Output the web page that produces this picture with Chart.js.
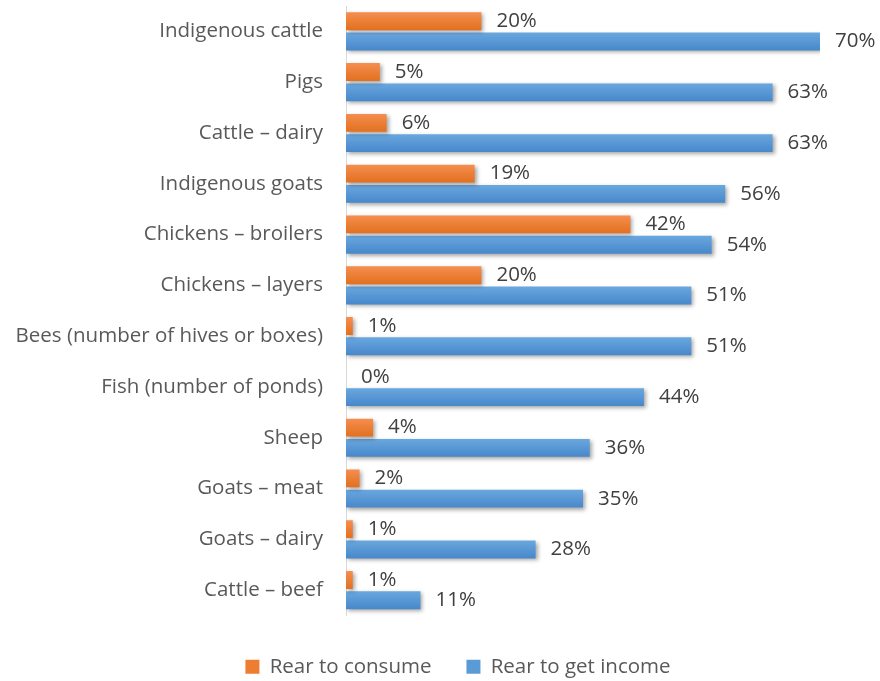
<!DOCTYPE html>
<html>
<head>
<meta charset="utf-8">
<script src="https://cdn.jsdelivr.net/npm/chart.js@4"></script>
<style>
  html, body { margin: 0; padding: 0; background: #fff; }
  #wrap { width: 880px; height: 681px; }
</style>
</head>
<body>
<div id="wrap"><canvas id="livestockChart" width="880" height="681"></canvas></div>
<script>
const categories = [
    'Indigenous cattle', 'Pigs', 'Cattle – dairy', 'Indigenous goats',
    'Chickens – broilers', 'Chickens – layers', 'Bees (number of hives or boxes)',
    'Fish (number of ponds)', 'Sheep', 'Goats – meat', 'Goats – dairy', 'Cattle – beef'
];
const consumeValues = [20, 5, 6, 19, 42, 20, 1, 0, 4, 2, 1, 1];
const incomeValues = [70, 63, 63, 56, 54, 51, 51, 44, 36, 35, 28, 11];

const FONT = '"Open Sans", sans-serif';
const FONT_SIZE = 20.5;

// Each series gets a light-to-dark vertical shade
const shades = [
    ['#f58e4f', '#e2701f'],
    ['#6aa7de', '#4788cb']
];

// Bars: shaded fill plus a soft drop shadow
const barLook = {
    id: 'barLook',
    beforeDatasetDraw(chart, args) {
        const ctx = chart.ctx;
        const [top, bottom] = shades[args.index];
        args.meta.data.forEach(bar => {
            const g = ctx.createLinearGradient(0, bar.y - bar.height / 2, 0, bar.y + bar.height / 2);
            g.addColorStop(0, top);
            g.addColorStop(1, bottom);
            bar.options = Object.assign({}, bar.options, { backgroundColor: g });
        });
        ctx.save();
        ctx.shadowColor = 'rgba(0,0,0,0.35)';
        ctx.shadowBlur = 4;
        ctx.shadowOffsetX = 2;
        ctx.shadowOffsetY = 2;
    },
    afterDatasetDraw(chart) {
        chart.ctx.restore();
    }
};

// Percent labels to the right of each bar
const valueLabels = {
    id: 'valueLabels',
    afterDatasetsDraw(chart) {
        const ctx = chart.ctx;
        ctx.save();
        ctx.font = FONT_SIZE + 'px ' + FONT;
        ctx.fillStyle = '#404040';
        ctx.textAlign = 'left';
        ctx.textBaseline = 'middle';
        chart.data.datasets.forEach((ds, di) => {
            chart.getDatasetMeta(di).data.forEach((bar, i) => {
                ctx.fillText(ds.data[i] + '%', bar.x + 15, bar.y);
            });
        });
        ctx.restore();
    }
};

// Nudge the legend so it sits centred under the whole figure, a little lower
const legendNudge = {
    id: 'legendNudge',
    afterLayout(chart) {
        const lg = chart.legend;
        const dx = 458 - (lg.left + lg.right) / 2;
        lg.left += dx;
        lg.right += dx;
        lg.top += 6;
        lg.bottom += 6;
    }
};

new Chart(document.getElementById('livestockChart'), {
    type: 'bar',
    data: {
        labels: categories,
        datasets: [
            { label: 'Rear to consume', data: consumeValues, backgroundColor: '#ed7d31', borderWidth: 0 },
            { label: 'Rear to get income', data: incomeValues, backgroundColor: '#5b9bd5', borderWidth: 0 }
        ]
    },
    options: {
        indexAxis: 'y',
        responsive: false,
        animation: false,
        devicePixelRatio: 1,
        categoryPercentage: 0.8,
        barPercentage: 0.88,
        layout: { padding: { left: 0, right: 60, top: 6, bottom: 0 } },
        plugins: {
            legend: {
                position: 'bottom',
                labels: {
                    font: { size: FONT_SIZE, family: FONT },
                    color: '#595959',
                    boxWidth: 14,
                    boxHeight: 14,
                    padding: 35
                }
            },
            tooltip: { enabled: false }
        },
        scales: {
            x: { display: false, min: 0, max: 70 },
            y: {
                grid: { display: false },
                border: { display: true, color: '#d9d9d9', width: 1 },
                ticks: { font: { size: FONT_SIZE, family: FONT }, color: '#595959', padding: 15 },
                afterFit(scale) {
                    scale.width = 346;
                    scale.paddingTop = 0;
                    scale.paddingBottom = 0;
                }
            }
        }
    },
    plugins: [barLook, valueLabels, legendNudge]
});
</script>
</body>
</html>
